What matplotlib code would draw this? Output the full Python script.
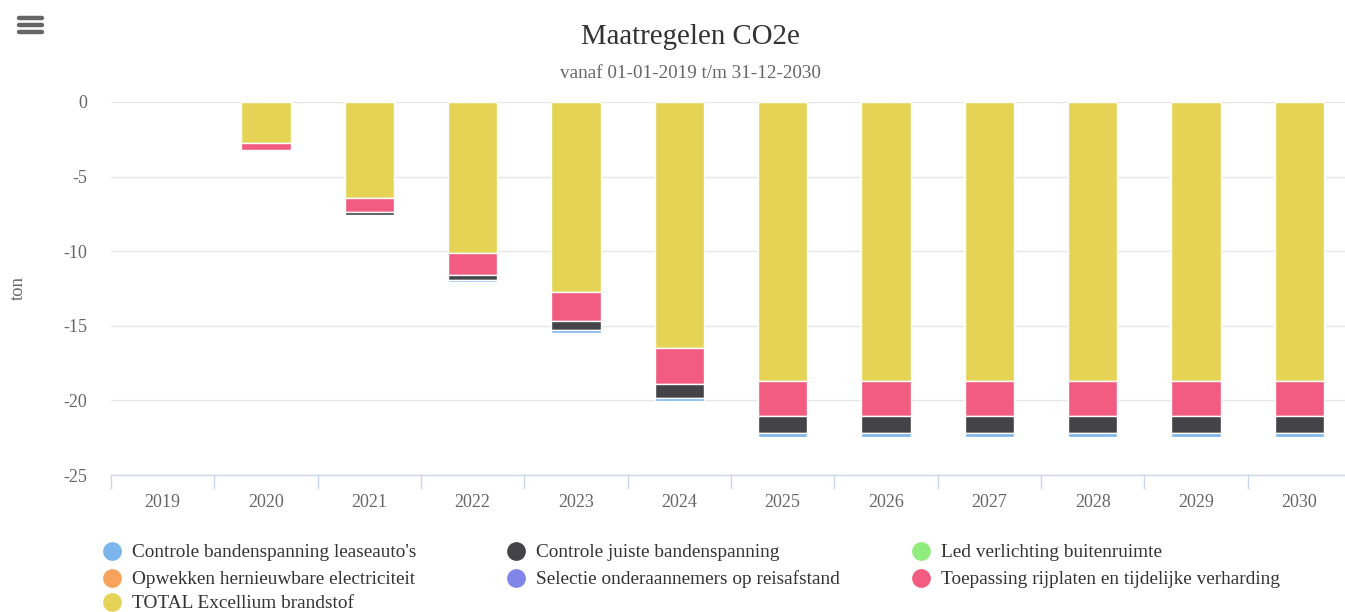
import matplotlib
matplotlib.use("Agg")
import matplotlib.pyplot as plt
from matplotlib.lines import Line2D
import numpy as np

plt.rcParams['font.family'] = ['Liberation Serif', 'DejaVu Serif']

years = ['2019', '2020', '2021', '2022', '2023', '2024', '2025', '2026', '2027', '2028', '2029', '2030']

series_names = [
    "Controle bandenspanning leaseauto's",
    "Controle juiste bandenspanning",
    "Led verlichting buitenruimte",
    "Opwekken hernieuwbare electriciteit",
    "Selectie onderaannemers op reisafstand",
    "Toepassing rijplaten en tijdelijke verharding",
    "TOTAL Excellium brandstof",
]
colors = ['#7cb5ec', '#434348', '#90ed7d', '#f7a35c', '#8085e9', '#f15c80', '#e4d354']

leaseauto = [0, 0, 0, -0.12, -0.22, -0.22, -0.25, -0.25, -0.25, -0.25, -0.25, -0.25]
juiste = [0, 0, -0.22, -0.36, -0.58, -0.95, -1.13, -1.13, -1.13, -1.13, -1.13, -1.13]
led = [0] * 12
opwekken = [0] * 12
selectie = [0] * 12
rijplaten = [0, -0.5, -0.9, -1.5, -1.95, -2.37, -2.37, -2.37, -2.37, -2.37, -2.37, -2.37]
total_brandstof = [0, -2.72, -6.45, -10.1, -12.75, -16.5, -18.68, -18.68, -18.68, -18.68, -18.68, -18.68]

data = [leaseauto, juiste, led, opwekken, selectie, rijplaten, total_brandstof]

W, H = 1345, 612
fig = plt.figure(figsize=(W / 100, H / 100), dpi=100)
ax = fig.add_axes([111 / W, (H - 475) / H, 1240 / W, 373 / H])

x = np.arange(len(years))
bottom = np.zeros(len(years))
# stack from zero outward: last series nearest zero
for name, vals, c in reversed(list(zip(series_names, data, colors))):
    v = np.array(vals, dtype=float)
    mask = v != 0
    if mask.any():
        ax.bar(x[mask], v[mask], bottom=bottom[mask], width=0.475, color=c,
               edgecolor='white', linewidth=1.0, zorder=3)
    bottom += v

ax.set_xlim(-0.5, len(years) - 0.5)
ax.set_ylim(-25, 0)
ax.set_yticks([0, -5, -10, -15, -20, -25])
ax.set_yticklabels(['0', '-5', '-10', '-15', '-20', '-25'])
ax.grid(axis='y', color='#e6e6e6', linewidth=1, zorder=0)
ax.set_axisbelow(True)
for s in ['top', 'right', 'left']:
    ax.spines[s].set_visible(False)
ax.spines['bottom'].set_color('#ccd6eb')
ax.spines['bottom'].set_linewidth(1)
ax.spines['bottom'].set_zorder(4)

ax.set_xticks(x)
ax.set_xticklabels(years)
ax.set_xticks(np.arange(-0.5, len(years), 1.0), minor=True)
ax.tick_params(axis='x', which='major', length=0, pad=14, labelsize=13, labelcolor='#666666')
ax.tick_params(axis='x', which='minor', length=10, width=1, color='#ccd6eb', direction='out')
ax.tick_params(axis='y', length=0, pad=17, labelsize=13, labelcolor='#666666')

fig.text(18 / W, 1 - 288 / H, 'ton', rotation=90, ha='center', va='center', fontsize=13.5, color='#666666')

fig.text(690 / W, 1 - 37 / H, 'Maatregelen CO2e', ha='center', va='center', fontsize=20.8, color='#333333')
fig.text(690 / W, 1 - 73 / H, 'vanaf 01-01-2019 t/m 31-12-2030', ha='center', va='center', fontsize=13.8, color='#666666')

# hamburger menu icon
for yy in [18, 25, 32]:
    fig.add_artist(Line2D([19 / W, 42 / W], [1 - yy / H, 1 - yy / H], color='#666666',
                          linewidth=3.2, solid_capstyle='round'))

# legend (row-wise, 3 columns)
col_x = [112, 516, 921]
row_y = [551, 578, 602]
for i, (name, c) in enumerate(zip(series_names, colors)):
    r, cidx = divmod(i, 3)
    mx, my = col_x[cidx], row_y[r]
    fig.add_artist(Line2D([mx / W], [1 - my / H], marker='o', markersize=13.5,
                          color=c, markeredgewidth=0, linestyle='none'))
    fig.text((mx + 20) / W, 1 - (my + 1.5) / H, name, ha='left', va='center', fontsize=13.9, color='#333333')

fig.savefig('out.png', dpi=100, facecolor='white')
